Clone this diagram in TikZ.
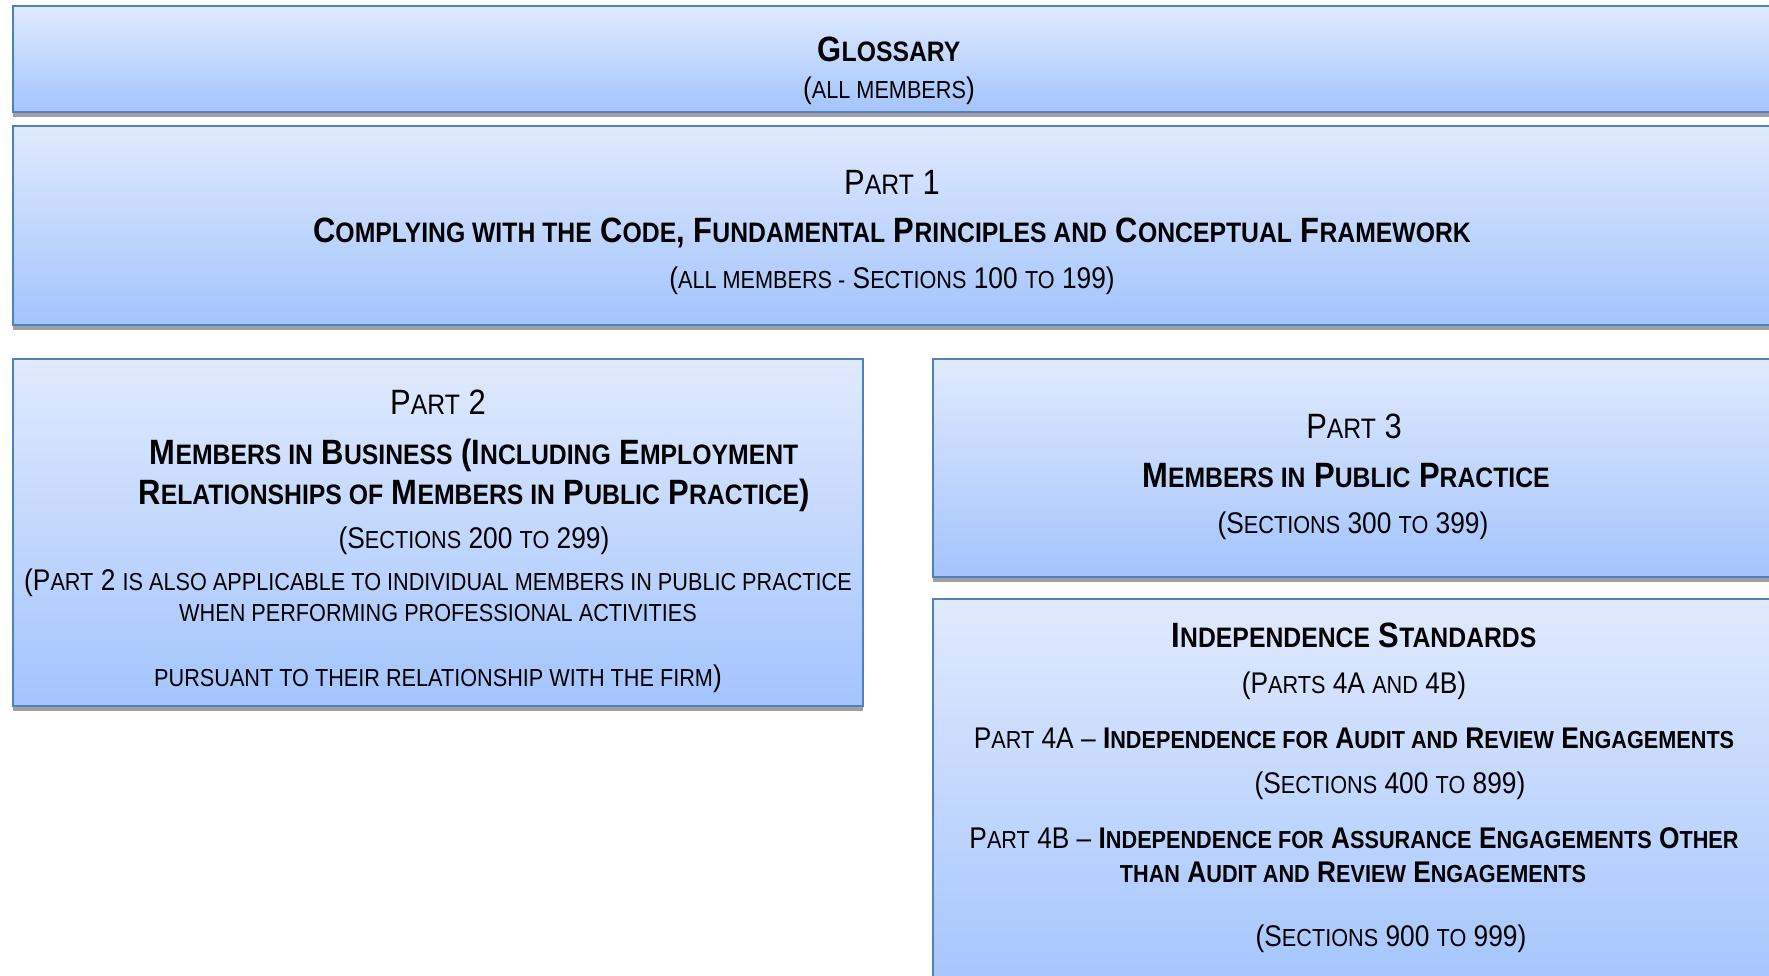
\documentclass[tikz,border=0pt]{standalone}
\usepackage{fontspec}
\setmainfont{Liberation Sans}[FakeStretch=0.88]
\usepackage{relsize}
\usepackage{xcolor}
\usepackage{tikz}
\usetikzlibrary{shadows}
\definecolor{boxtop}{RGB}{224,234,253}
\definecolor{boxbottom}{RGB}{163,196,253}
\definecolor{boxline}{RGB}{79,129,189}
\definecolor{boxshadow}{RGB}{160,160,160}
\newcommand\lc[1]{\textscale{0.78}{\MakeUppercase{#1}}}
\tikzstyle{partbox} = [draw=boxline, line width=0.75pt, top color=boxtop,
bottom color=boxbottom, drop shadow={shadow xshift=0pt, shadow yshift=-1.4pt,
fill=boxshadow, opacity=1}]
\tikzstyle{textline} = [inner sep=0pt, anchor=base, font=\fontsize{10}{12}\selectfont]
\tikzstyle{smallline} = [textline, font=\fontsize{8.5}{10}\selectfont]

\begin{document}
\begin{tikzpicture}[x=0.01cm, y=-0.01cm]
        \useasboundingbox (0,0) rectangle (1769,976);
        \clip (0,0) rectangle (1769,976);
        \path[partbox] (13,6) rectangle (1800,112);
        \path[partbox] (13,126) rectangle (1800,325);
        \path[partbox] (13,359) rectangle (863,706);
        \path[partbox] (933,359) rectangle (1800,577);
        \path[partbox] (933,599) rectangle (1800,1000);

        \node[textline] (glossary) at (889,62) {\textbf{G\lc{lossary}}};
        \node[smallline] (glossaryall) at (889,99) {(\lc{all members})};

        \node[textline] (part1) at (892,195) {P\lc{art} 1};
        \node[textline] (part1title) at (892,243) {\textbf{C\lc{omplying with the} C\lc{ode}, F\lc{undamental} P\lc{rinciples and} C\lc{onceptual} F\lc{ramework}}};
        \node[smallline] (part1sections) at (892,288) {(\lc{all members -} S\lc{ections} 100 \lc{to} 199)};

        \node[textline] (part2) at (438,415) {P\lc{art} 2};
        \node[textline] (part2titlea) at (474,464) {\textbf{M\lc{embers in} B\lc{usiness} (I\lc{ncluding} E\lc{mployment}}};
        \node[textline] (part2titleb) at (474,504) {\textbf{R\lc{elationships of} M\lc{embers in} P\lc{ublic} P\lc{ractice})}};
        \node[smallline] (part2sections) at (474,548) {(S\lc{ections} 200 \lc{to} 299)};
        \node[smallline] (part2notea) at (438,590) {(P\lc{art} 2 \lc{is also applicable to individual members in public practice}};
        \node[smallline] (part2noteb) at (438,621) {\lc{when performing professional activities}};
        \node[smallline] (part2notec) at (438,686) {\lc{pursuant to their relationship with the firm})};

        \node[textline] (part3) at (1354,438) {P\lc{art} 3};
        \node[textline] (part3title) at (1346,487) {\textbf{M\lc{embers in} P\lc{ublic} P\lc{ractice}}};
        \node[smallline] (part3sections) at (1353,533) {(S\lc{ections} 300 \lc{to} 399)};

        \node[textline] (indep) at (1354,647) {\textbf{I\lc{ndependence} S\lc{tandards}}};
        \node[smallline] (indepparts) at (1354,693) {(P\lc{arts} 4A \lc{and} 4B)};
        \node[smallline] (part4a) at (1354,748) {P\lc{art} 4A -- \textbf{I\lc{ndependence for} A\lc{udit and} R\lc{eview} E\lc{ngagements}}};
        \node[smallline] (part4asections) at (1390,793) {(S\lc{ections} 400 \lc{to} 899)};
        \node[smallline] (part4ba) at (1354,848) {P\lc{art} 4B -- \textbf{I\lc{ndependence for} A\lc{ssurance} E\lc{ngagements} O\lc{ther}}};
        \node[smallline] (part4bb) at (1353,882) {\textbf{\lc{than} A\lc{udit and} R\lc{eview} E\lc{ngagements}}};
        \node[smallline] (part4bsections) at (1391,946) {(S\lc{ections} 900 \lc{to} 999)};
    \end{tikzpicture}
\end{document}
